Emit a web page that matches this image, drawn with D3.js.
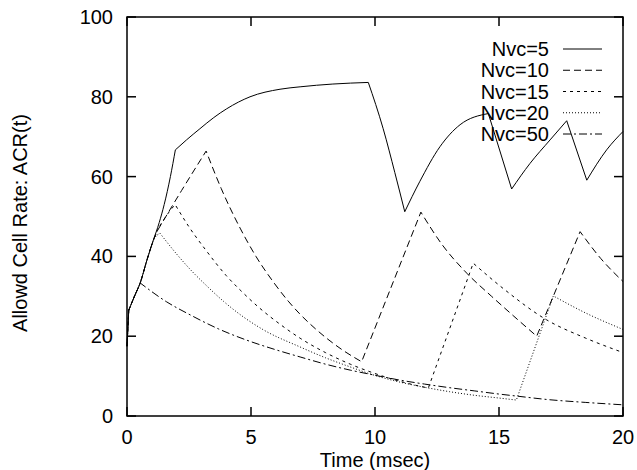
<!DOCTYPE html>
<html>
<head>
<meta charset="utf-8">
<script src="https://cdn.jsdelivr.net/npm/d3@7"></script>
<style>
  body { margin: 0; background: #fff; }
  svg { font-family: "Liberation Sans", Arial, Helvetica, sans-serif; }
</style>
</head>
<body>
<svg width="637" height="470"></svg>
<script>
// time (msec) and allowed cell rate for each Nvc, kinks = indices of sharp corners
const t5 = [0, 0.07, 0.3, 0.54, 0.8, 1.06, 1.3, 1.5, 1.75, 1.95, 2.4, 2.94, 3.5, 4.02, 4.96, 6.17, 6.98, 8.3, 9.73, 10.33, 10.8, 11.2, 11.8, 12.62, 13.43, 14.57, 15.51, 16.25, 17.06, 17.73, 18.54, 19.34, 20]
const v5 = [17.5, 26.5, 30, 33.5, 39, 44, 48.5, 53, 60, 66.7, 69.2, 72, 74.8, 77, 80, 81.9, 82.5, 83.2, 83.6, 72, 61, 51.2, 58.7, 67.5, 73, 75.8, 56.9, 63.3, 69.2, 74.0, 59.1, 66.7, 71.3]
const k5 = [1, 9, 18, 21, 25, 26, 29, 30]

const t10 = [0, 0.07, 0.3, 0.54, 0.8, 1.06, 1.26, 2.2, 3.19, 3.8, 4.56, 5.2, 5.9, 6.5, 6.98, 7.5, 8.7, 9.46, 11.85, 12.7, 13.7, 14.7, 15.6, 16.52, 18.27, 19.1, 20]
const v10 = [17.5, 26.5, 30, 33.5, 39, 44, 46.8, 56.5, 66.4, 57, 47.1, 40, 33.6, 28.8, 25.5, 22.4, 16.5, 13.6, 51.1, 43, 35.8, 30, 25, 20.0, 46.2, 39.5, 33.7]
const k10 = [1, 6, 8, 17, 18, 23, 24]

const t15 = [0, 0.07, 0.3, 0.54, 0.8, 1.06, 1.26, 1.6, 1.94, 2.5, 3.2, 4.0, 4.56, 5.3, 6.17, 6.98, 8.0, 9.0, 9.93, 11.0, 12.15, 13.96, 15.2, 16.92, 18.5, 20]
const v15 = [17.5, 26.5, 30, 33.5, 39, 44, 47, 50.3, 53, 47.4, 41.4, 35.2, 31.6, 27.3, 23, 19.5, 15.9, 13, 10.8, 8.7, 7.0, 38.3, 31.8, 24.1, 19.5, 15.9]
const k15 = [1, 6, 8, 20, 21]

const t20 = [0, 0.07, 0.3, 0.54, 0.8, 1.06, 1.33, 2.0, 2.6, 3.2, 3.9, 4.7, 5.5, 6.98, 8.0, 9.0, 9.93, 11.0, 12.0, 13.0, 14.0, 15.0, 15.7, 17.19, 18.5, 20]
const v20 = [17.5, 26.5, 30, 33.5, 39, 44, 45.8, 40.6, 36.4, 32.7, 28.7, 24.8, 21.6, 17.3, 14.6, 12.3, 10.3, 8.5, 7.2, 6.1, 5.2, 4.5, 4.0, 30.1, 25.8, 21.7]
const k20 = [1, 6, 22, 23]

const t50 = [0, 0.07, 0.3, 0.54, 1.6, 2.5, 3.7, 4.83, 6.0, 6.98, 8.0, 9.0, 9.93, 11.0, 12.0, 13.0, 14.0, 15.0, 15.7, 17.0, 18.5, 20]
const v50 = [17.5, 26.5, 30, 33.3, 28.6, 25.5, 21.8, 19, 16.6, 14.8, 13.0, 11.5, 10.3, 9.0, 8.0, 7.1, 6.3, 5.5, 5.0, 4.1, 3.4, 2.8]
const k50 = [1, 3]

const names = ['Nvc=5', 'Nvc=10', 'Nvc=15', 'Nvc=20', 'Nvc=50']
const xTicks = [0, 5, 10, 15, 20]
const yTicks = [0, 20, 40, 60, 80, 100]

const series = [
  { name: names[0], t: t5, v: v5, k: k5, dash: null },
  { name: names[1], t: t10, v: v10, k: k10, dash: '7,4' },
  { name: names[2], t: t15, v: v15, k: k15, dash: '3,4' },
  { name: names[3], t: t20, v: v20, k: k20, dash: '1,2' },
  { name: names[4], t: t50, v: v50, k: k50, dash: '8,3,2,3' }
]

const svg = d3.select('svg')
const x = d3.scaleLinear().domain([0, 20]).range([127, 623])
const y = d3.scaleLinear().domain([0, 100]).range([416, 17])
const fs = 20

// curves, split at the corners so each smooth piece stays smooth
const line = d3.line().x(d => x(d[0])).y(d => y(d[1])).curve(d3.curveMonotoneX)
series.forEach(s => {
  const pts = s.t.map((t, i) => [t, s.v[i]])
  const cuts = [0, ...s.k, pts.length - 1]
  let d = ''
  for (let i = 0; i < cuts.length - 1; i++) {
    const seg = pts.slice(cuts[i], cuts[i + 1] + 1)
    let p = line(seg)
    if (i > 0) p = 'L' + p.slice(1)
    d += p
  }
  svg.append('path').attr('d', d).attr('fill', 'none')
    .attr('stroke', '#000').attr('stroke-width', 1)
    .attr('stroke-dasharray', s.dash)
})

// frame and ticks (mirrored, pointing inward)
const g = svg.append('g').attr('stroke', '#000').attr('stroke-width', 1.5)
g.append('rect').attr('x', x(0)).attr('y', y(100))
  .attr('width', x(20) - x(0)).attr('height', y(0) - y(100)).attr('fill', 'none')
xTicks.forEach(t => {
  g.append('line').attr('x1', x(t)).attr('x2', x(t)).attr('y1', y(0)).attr('y2', y(0) - 9)
  g.append('line').attr('x1', x(t)).attr('x2', x(t)).attr('y1', y(100)).attr('y2', y(100) + 9)
})
yTicks.forEach(v => {
  g.append('line').attr('x1', x(0)).attr('x2', x(0) + 9).attr('y1', y(v)).attr('y2', y(v))
  g.append('line').attr('x1', x(20)).attr('x2', x(20) - 9).attr('y1', y(v)).attr('y2', y(v))
})

svg.append('g').selectAll('text').data(xTicks).join('text')
  .attr('x', d => x(d)).attr('y', 444).attr('text-anchor', 'middle')
  .attr('font-size', fs).text(d => d)
svg.append('g').selectAll('text').data(yTicks).join('text')
  .attr('x', 113).attr('y', d => y(d)).attr('dy', '0.35em').attr('text-anchor', 'end')
  .attr('font-size', fs).text(d => d)

svg.append('text').attr('x', 375).attr('y', 467).attr('text-anchor', 'middle')
  .attr('font-size', fs).text('Time (msec)')
svg.append('text').attr('transform', 'translate(27,223) rotate(-90)')
  .attr('text-anchor', 'middle').attr('font-size', fs).text('Allowd Cell Rate: ACR(t)')

// legend
const leg = svg.append('g')
series.forEach((s, i) => {
  const ly = 49 + i * 21.25
  leg.append('text').attr('x', 549).attr('y', ly).attr('dy', '0.35em')
    .attr('text-anchor', 'end').attr('font-size', fs).text(s.name)
  leg.append('line').attr('x1', 563).attr('x2', 602).attr('y1', ly).attr('y2', ly)
    .attr('stroke', '#000').attr('stroke-width', 1).attr('stroke-dasharray', s.dash)
})
</script>
</body>
</html>
